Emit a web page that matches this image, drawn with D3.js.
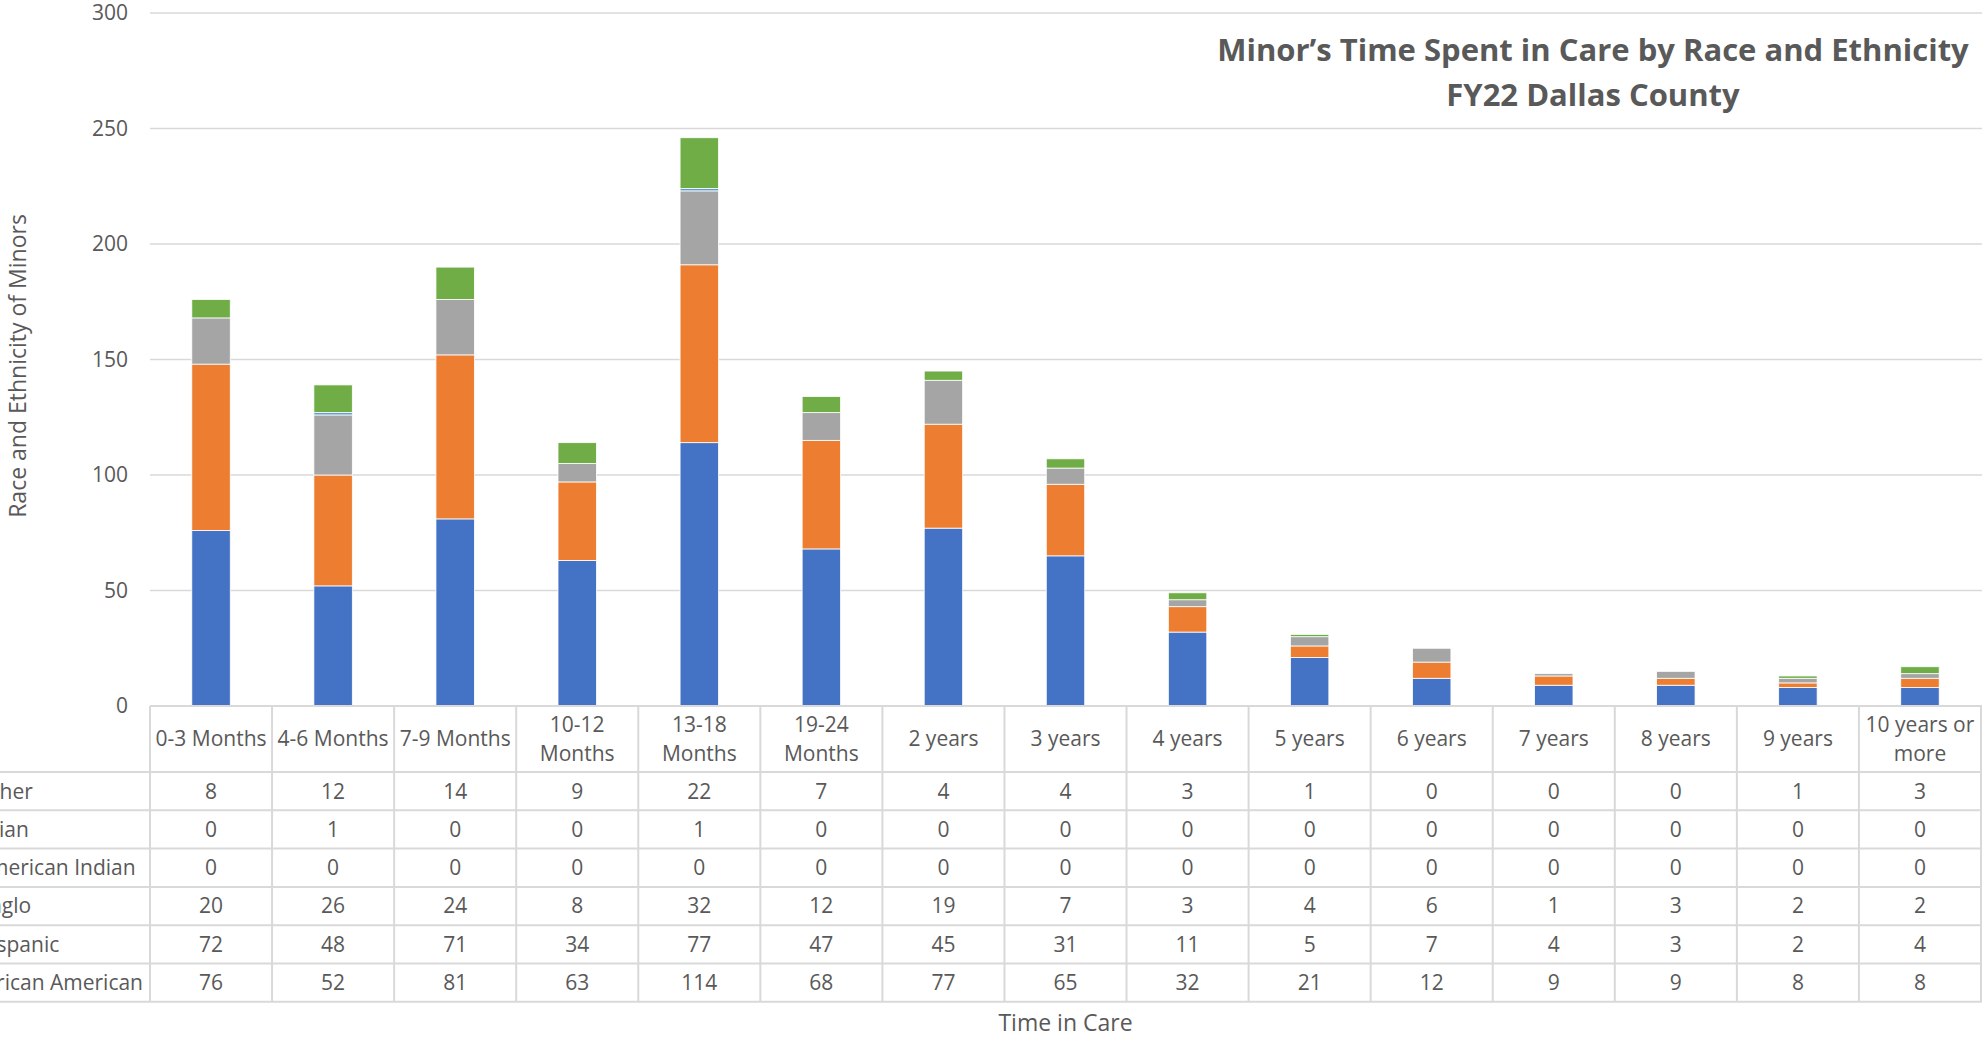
<!DOCTYPE html>
<html>
<head>
<meta charset="utf-8">
<script src="https://cdn.jsdelivr.net/npm/d3@7"></script>
<style>
  body { margin: 0; background: #fff; }
  svg { display: block; font-family: "Open Sans", sans-serif; }
</style>
</head>
<body>
<svg width="1982" height="1037"></svg>
<script>
// categories (header labels, "\n" = line break as in the reference)
let categories = ['0-3 Months', '4-6 Months', '7-9 Months', '10-12\nMonths', '13-18\nMonths', '19-24\nMonths',
  '2 years', '3 years', '4 years', '5 years', '6 years', '7 years', '8 years', '9 years', '10 years or\nmore']

// series, bottom of the stack first
let seriesNames = ['African American', 'Hispanic', 'Anglo', 'American Indian', 'Asian', 'Other']
let seriesColors = ['#4472C4', '#ED7D31', '#A5A5A5', '#FFC000', '#5B9BD5', '#70AD47']

let africanAmerican = [76, 52, 81, 63, 114, 68, 77, 65, 32, 21, 12, 9, 9, 8, 8]
let hispanic = [72, 48, 71, 34, 77, 47, 45, 31, 11, 5, 7, 4, 3, 2, 4]
let anglo = [20, 26, 24, 8, 32, 12, 19, 7, 3, 4, 6, 1, 3, 2, 2]
let americanIndian = [0, 0, 0, 0, 0, 0, 0, 0, 0, 0, 0, 0, 0, 0, 0]
let asian = [0, 1, 0, 0, 1, 0, 0, 0, 0, 0, 0, 0, 0, 0, 0]
let other = [8, 12, 14, 9, 22, 7, 4, 4, 3, 1, 0, 0, 0, 1, 3]

let yTicks = [0, 50, 100, 150, 200, 250, 300]

let seriesValues = [africanAmerican, hispanic, anglo, americanIndian, asian, other]

let svg = d3.select('svg')
let textColor = '#595959'
let lineColor = '#D9D9D9'

let plotLeft = 150, plotRight = 1981, plotTop = 13, plotBottom = 706
let rowH = 38.3, headH = 66

let x = d3.scaleBand().domain(categories).range([plotLeft, plotRight]).padding(0)
let y = d3.scaleLinear().domain([0, 300]).range([plotBottom, plotTop])

// gridlines
svg.append('g')
  .selectAll('line')
  .data(yTicks.filter(d => d > 0))
  .enter().append('line')
  .attr('x1', plotLeft).attr('x2', plotRight + 1)
  .attr('y1', d => y(d)).attr('y2', d => y(d))
  .attr('stroke', lineColor).attr('stroke-width', 1.5)

// y tick labels
svg.append('g')
  .selectAll('text')
  .data(yTicks)
  .enter().append('text')
  .attr('x', 128)
  .attr('y', d => y(d))
  .attr('dy', '0.35em')
  .attr('text-anchor', 'end')
  .attr('font-size', 21)
  .attr('fill', textColor)
  .text(d => d)

// stacked bars
let rows = categories.map((c, i) => {
  let r = { cat: c }
  seriesNames.forEach((s, j) => { r[s] = seriesValues[j][i] })
  return r
})
let stacked = d3.stack().keys(seriesNames)(rows)
let barW = x.bandwidth() * 0.315

svg.append('g')
  .selectAll('g')
  .data(stacked)
  .enter().append('g')
  .attr('fill', (d, i) => seriesColors[i])
  .selectAll('rect')
  .data(d => d.filter(p => p[1] > p[0]))
  .enter().append('rect')
  .attr('x', d => x(d.data.cat) + (x.bandwidth() - barW) / 2)
  .attr('width', barW)
  .attr('y', d => y(d[1]))
  .attr('height', d => y(d[0]) - y(d[1]))
  .attr('stroke', '#fff')
  .attr('stroke-width', 0.8)

// data table
let table = svg.append('g')
let tableRows = seriesNames.slice().reverse()
let tableVals = seriesValues.slice().reverse()
let rowTop = plotBottom + headH
let tableBottom = rowTop + rowH * tableRows.length

// header row top line (axis)
table.append('line')
  .attr('x1', plotLeft).attr('x2', plotRight + 1)
  .attr('y1', plotBottom).attr('y2', plotBottom)
  .attr('stroke', lineColor).attr('stroke-width', 2)

// horizontal row lines
table.selectAll('line.h')
  .data(d3.range(tableRows.length + 1))
  .enter().append('line')
  .attr('class', 'h')
  .attr('x1', 0).attr('x2', plotRight + 1)
  .attr('y1', d => rowTop + d * rowH).attr('y2', d => rowTop + d * rowH)
  .attr('stroke', lineColor).attr('stroke-width', 2)

// vertical column lines
table.selectAll('line.v')
  .data(categories.concat(['end']))
  .enter().append('line')
  .attr('class', 'v')
  .attr('x1', (d, i) => plotLeft + i * x.bandwidth()).attr('x2', (d, i) => plotLeft + i * x.bandwidth())
  .attr('y1', plotBottom).attr('y2', tableBottom)
  .attr('stroke', lineColor).attr('stroke-width', 2)

// header labels
let head = table.selectAll('text.head')
  .data(categories)
  .enter().append('text')
  .attr('class', 'head')
  .attr('text-anchor', 'middle')
  .attr('font-size', 21)
  .attr('fill', textColor)

head.each(function(d) {
  let lines = d.split('\n')
  let cx = x(d) + x.bandwidth() / 2
  let cy = plotBottom + headH / 2
  let lh = 29
  lines.forEach((l, k) => {
    d3.select(this).append('tspan')
      .attr('x', cx)
      .attr('y', cy + (k - (lines.length - 1) / 2) * lh)
      .attr('dy', '0.35em')
      .text(l)
  })
})

// row labels (clipped at the left edge as in the reference)
let rowLabels = table.selectAll('text.rl')
  .data(tableRows)
  .enter().append('text')
  .attr('class', 'rl')
  .attr('y', (d, i) => rowTop + i * rowH + rowH / 2)
  .attr('dy', '0.35em')
  .attr('font-size', 21)
  .attr('fill', textColor)
  .text(d => d)

let aaLen = rowLabels.filter(d => d === 'African American').node().getComputedTextLength()
rowLabels.attr('x', 143 - aaLen)

// values
tableVals.forEach((vals, r) => {
  table.append('g')
    .selectAll('text')
    .data(vals)
    .enter().append('text')
    .attr('x', (d, i) => x(categories[i]) + x.bandwidth() / 2)
    .attr('y', rowTop + r * rowH + rowH / 2)
    .attr('dy', '0.35em')
    .attr('text-anchor', 'middle')
    .attr('font-size', 21)
    .attr('fill', textColor)
    .text(d => d)
})

// axis titles
svg.append('text')
  .attr('transform', `translate(18, 366) rotate(-90)`)
  .attr('text-anchor', 'middle')
  .attr('dy', '0.35em')
  .attr('font-size', 23)
  .attr('fill', textColor)
  .text('Race and Ethnicity of Minors')

svg.append('text')
  .attr('x', (plotLeft + plotRight) / 2)
  .attr('y', 1023)
  .attr('dy', '0.35em')
  .attr('text-anchor', 'middle')
  .attr('font-size', 23)
  .attr('fill', textColor)
  .text('Time in Care')

// chart title
let title = svg.append('text')
  .attr('text-anchor', 'middle')
  .attr('font-size', 31)
  .attr('font-weight', 'bold')
  .attr('fill', textColor)
title.append('tspan').attr('x', 1593).attr('y', 61).text('Minor\u2019s Time Spent in Care by Race and Ethnicity')
title.append('tspan').attr('x', 1593).attr('y', 106).text('FY22 Dallas County')
</script>
</body>
</html>
